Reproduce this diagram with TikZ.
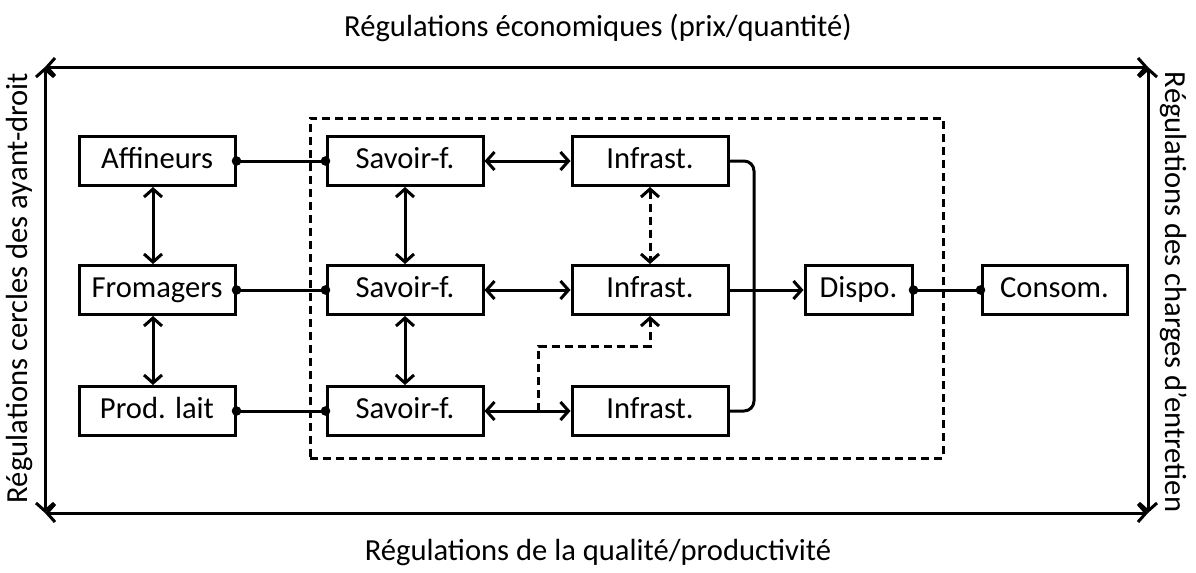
\documentclass[tikz,border=0pt]{standalone}
\usepackage{fontspec}
\setmainfont{Carlito}
\usetikzlibrary{arrows.meta,calc}
\begin{document}
\begin{tikzpicture}[x=0.5pt,y=-0.5pt,
  every node/.style={font=\fontsize{15.3}{18}\selectfont},
  box/.style={draw,line width=1.5pt,minimum width=78pt,minimum height=24.5pt,inner sep=0pt,text height=10.5pt,text depth=3pt},
  conn/.style={line width=1.5pt},
  arr/.style={conn,-{Straight Barb[length=4pt,width=9pt,line width=1.5pt]}},
  darr/.style={conn,{Straight Barb[length=4pt,width=9pt,line width=1.5pt]}-{Straight Barb[length=4pt,width=9pt,line width=1.5pt]}},
  dashline/.style={dash pattern=on 4pt off 2.5pt},
  dotr/.style={radius=2.4pt}]
\useasboundingbox (0,0) rectangle (1196,573);
% frame
\coordinate (tl) at (45,67);
\coordinate (tr) at (1148,67);
\coordinate (bl) at (45,513);
\coordinate (br) at (1148,513);
\draw[darr] (tl) -- (tr);
\draw[darr] (bl) -- (br);
\draw[darr] (tl) -- (bl);
\draw[darr] (tr) -- (br);
\node (ttop) at (598,28) {Régulations économiques (prix/quantité)};
\node (tbot) at (598,553) {Régulations de la qualité/productivité};
\node[rotate=90] (tleft) at (20,288) {Régulations cercles des ayant-droit};
\node[rotate=-90] (tright) at (1174,292) {Régulations des charges d’entretien};
% dashed region
\node[draw,dashline,line width=1.5pt,minimum width=316.5pt,minimum height=170pt,inner sep=0pt] (zone) at (626.5,288) {};
% boxes
\node[box] (aff) at (157,161) {Affineurs};
\node[box] (fro) at (157,290) {Fromagers};
\node[box] (pro) at (157,411) {Prod. lait};
\node[box] (s1) at (405,161) {Savoir-f.};
\node[box] (s2) at (405,290) {Savoir-f.};
\node[box] (s3) at (405,411) {Savoir-f.};
\node[box] (i1) at (650,161) {Infrast.};
\node[box] (i2) at (650,290) {Infrast.};
\node[box] (i3) at (650,411) {Infrast.};
\node[box,minimum width=53.5pt] (dis) at (858.5,290) {Dispo.};
\node[box,minimum width=72.5pt] (con) at (1054.5,290) {Consom.};
% left column
\draw[darr] ([xshift=-2pt]aff.south) -- ([xshift=-2pt]fro.north);
\draw[darr] ([xshift=-2pt]fro.south) -- ([xshift=-2pt]pro.north);
% links to savoir-faire
\draw[conn] (aff.east) -- (s1.west);
\draw[conn] (fro.east) -- (s2.west);
\draw[conn] (pro.east) -- (s3.west);
\fill[dotr] (aff.east) circle; \fill[dotr] (s1.west) circle;
\fill[dotr] (fro.east) circle; \fill[dotr] (s2.west) circle;
\fill[dotr] (pro.east) circle; \fill[dotr] (s3.west) circle;
% savoir-faire column
\draw[darr] (s1.south) -- (s2.north);
\draw[darr] (s2.south) -- (s3.north);
% savoir-faire to infrastructure
\draw[darr] (s1.east) -- (i1.west);
\draw[darr] (s2.east) -- (i2.west);
\draw[darr] (s3.east) -- (i3.west);
\draw[darr,dashline] (i1.south) -- (i2.north);
\coordinate (brn) at ($(s3.east)!0.63!(i3.west)$);
\draw[arr,dashline] (brn) -- ++(0,-65) -| (i2.south);
% collector
\coordinate (cx) at (754,0);
\draw[conn,rounded corners=5pt] (i1.east) -| (cx |- i3.east) -- (i3.east);
\draw[arr] (i2.east) -- (dis.west);
% dispo to consom
\draw[conn] (dis.east) -- (con.west);
\fill[dotr] (dis.east) circle; \fill[dotr] (con.west) circle;
\end{tikzpicture}
\end{document}
